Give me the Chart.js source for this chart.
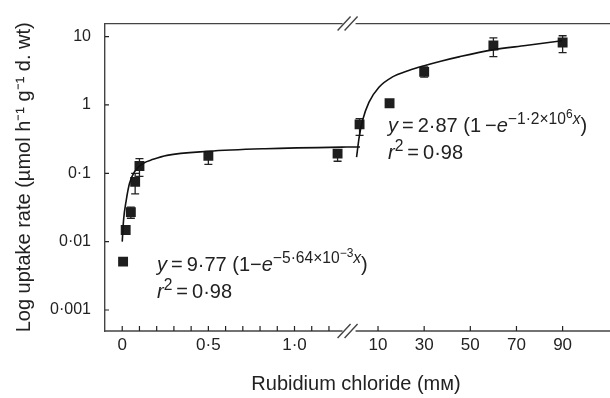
<!DOCTYPE html>
<html lang="en">
<head>
<meta charset="UTF-8">
<title>Rubidium uptake</title>
<script src="https://cdn.jsdelivr.net/npm/chart.js@4.4.1/dist/chart.umd.min.js"></script>
<style>
    html, body { margin: 0; padding: 0; background: #fff; }
</style>
</head>
<body>
<canvas id="myChart" width="610" height="398"></canvas>
<script>
// low range (left of the axis break), mM
const xLow = [0.005, 0.02, 0.05, 0.075, 0.1, 0.5, 1.25]
const yLow = [0.0051, 0.0148, 0.027, 0.075, 0.128, 0.18, 0.194]
const yLowMin = [0.0046, 0.0135, 0.022, 0.05, 0.09, 0.135, 0.15]
const yLowMax = [0.0056, 0.016, 0.032, 0.1, 0.164, 0.21, 0.22]
// fitted curve
const fitLowX = [0, 0.008, 0.023, 0.042, 0.07, 0.12, 0.18, 0.26, 0.5, 0.83, 1.3, 1.38]
const fitLowY = [0.01, 0.021, 0.04, 0.071, 0.104, 0.139, 0.16, 0.183, 0.21, 0.229, 0.242, 0.243]

// high range (right of the break), mM
const xHigh = [2, 15, 30, 60, 90]
const yHigh = [0.52, 1.06, 3.05, 7.4, 8.2]
const yHighMin = [0.36, 1.0, 2.55, 5.1, 5.84]
const yHighMax = [0.63, 1.12, 3.6, 9.57, 10.3]
const fitHighX = [0.7, 1.85, 3.3, 6.1, 10.4, 16.1, 23.3, 30.4, 37.6, 45.5, 59.8, 74, 89.8]
const fitHighY = [0.173, 0.34, 0.594, 1.1, 1.82, 2.55, 3.19, 3.78, 4.4, 5.1, 6.4, 7.4, 8.7]

// axes
const xLowTicks = [0, 0.1, 0.2, 0.3, 0.4, 0.5, 0.6, 0.7, 0.8, 0.9, 1.0, 1.1, 1.2]
const xLowLabels = ['0', '', '', '', '', '0·5', '', '', '', '', '1·0', '', '']
const xHighTicks = [10, 30, 50, 70, 90]
const xHighLabels = ['10', '30', '50', '70', '90']
const yTicks = [0.001, 0.01, 0.1, 1, 10]
const yLabels = ['0·001', '0·01', '0·1', '1', '10']

const FONT = 'Liberation Sans'
const INK = '#222'

function pts(xs, ys) {
    return xs.map((x, i) => ({ x: x, y: ys[i] }))
}

// draw text with superscripts, italics
function rich(ctx, x, y, parts, size) {
    parts.forEach(p => {
        let s = size, dy = 0
        if (p.sup == 1) { s = size * 0.78; dy = -size * 0.42 }
        if (p.sup == 2) { s = size * 0.6; dy = -size * 0.72 }
        ctx.font = (p.it ? 'italic ' : '') + s + 'px "' + FONT + '"'
        ctx.fillText(p.t, x, y + dy)
        x += ctx.measureText(p.t).width
    })
}

const decor = {
    id: 'decor',
    beforeDatasetsDraw(chart) {
        const ctx = chart.ctx
        const y = chart.scales.y
        ctx.save()
        ctx.strokeStyle = INK
        ctx.lineWidth = 1.3
        const bars = [
            [chart.scales.xL, xLow, yLowMin, yLowMax],
            [chart.scales.xR, xHigh, yHighMin, yHighMax]
        ]
        bars.forEach(([sx, xs, lo, hi]) => {
            xs.forEach((v, i) => {
                const px = sx.getPixelForValue(v)
                const p1 = y.getPixelForValue(lo[i]), p2 = y.getPixelForValue(hi[i])
                ctx.beginPath()
                ctx.moveTo(px, p1); ctx.lineTo(px, p2)
                ctx.moveTo(px - 4, p1); ctx.lineTo(px + 4, p1)
                ctx.moveTo(px - 4, p2); ctx.lineTo(px + 4, p2)
                ctx.stroke()
            })
        })
        ctx.restore()
    },
    afterDraw(chart) {
        const ctx = chart.ctx
        const a = chart.chartArea
        const xL = chart.scales.xL, xR = chart.scales.xR, y = chart.scales.y
        const cx = xL.right + 1
        ctx.save()
        ctx.strokeStyle = '#444'
        ctx.lineWidth = 1.4
        // top and bottom lines with the break
        ;[a.top, a.bottom].forEach(ly => {
            ctx.beginPath()
            ctx.moveTo(a.left, ly); ctx.lineTo(cx - 6, ly)
            ctx.moveTo(cx + 7, ly); ctx.lineTo(chart.width, ly)
            ctx.stroke()
            ctx.beginPath()
            ctx.moveTo(cx - 11, ly + 7); ctx.lineTo(cx + 2, ly - 7)
            ctx.moveTo(cx - 4, ly + 7); ctx.lineTo(cx + 9, ly - 7)
            ctx.stroke()
        })
        // inward ticks
        ctx.strokeStyle = INK
        ctx.lineWidth = 1.2
        ctx.beginPath()
        y.ticks.forEach(t => {
            const py = y.getPixelForValue(t.value)
            ctx.moveTo(a.left, py); ctx.lineTo(a.left + 4, py)
        })
        ;[xL, xR].forEach(sx => {
            sx.ticks.forEach(t => {
                const px = sx.getPixelForValue(t.value)
                ctx.moveTo(px, a.bottom); ctx.lineTo(px, a.bottom - 5)
            })
        })
        ctx.stroke()

        // equations
        ctx.fillStyle = INK
        ctx.textBaseline = 'alphabetic'
        ctx.textAlign = 'left'
        rich(ctx, a.left + 52, 271, [
            { t: 'y', it: 1 }, { t: '\u2009=\u20099·77 (1−' }, { t: 'e', it: 1 },
            { t: '−5·64×10', sup: 1 }, { t: '−3', sup: 2 }, { t: 'x', it: 1, sup: 1 }, { t: ')' }
        ], 20)
        rich(ctx, a.left + 52, 298, [
            { t: 'r', it: 1 }, { t: '2', sup: 1 }, { t: '\u2009=\u20090·98' }
        ], 20)
        rich(ctx, a.left + 283, 132, [
            { t: 'y', it: 1 }, { t: '\u2009=\u20092·87 (1\u2009−' }, { t: 'e', it: 1 },
            { t: '−1·2×10', sup: 1 }, { t: '6', sup: 2 }, { t: 'x', it: 1, sup: 1 }, { t: ')' }
        ], 20)
        rich(ctx, a.left + 283, 159, [
            { t: 'r', it: 1 }, { t: '2', sup: 1 }, { t: '\u2009=\u20090·98' }
        ], 20)

        // x title
        ctx.font = '20px "' + FONT + '"'
        ctx.textAlign = 'center'
        ctx.fillText('Rubidium chloride (mᴍ)', (a.left + a.right) / 2 + 2, 390)
        ctx.restore()
    }
}

const ctx = document.getElementById('myChart').getContext('2d')
const myChart = new Chart(ctx, {
    type: 'scatter',
    data: {
        datasets: [
            {
                data: pts(fitLowX, fitLowY), xAxisID: 'xL', showLine: true, pointRadius: 0, clip: false,
                borderColor: '#111', borderWidth: 1.6, cubicInterpolationMode: 'monotone'
            },
            {
                data: pts(fitHighX, fitHighY), xAxisID: 'xR', showLine: true, pointRadius: 0,
                borderColor: '#111', borderWidth: 1.6, cubicInterpolationMode: 'monotone'
            },
            {
                data: pts(xLow, yLow), xAxisID: 'xL', pointStyle: 'rect', pointRadius: 7,
                backgroundColor: '#1e1e1e', borderWidth: 0
            },
            {
                data: pts(xHigh, yHigh), xAxisID: 'xR', pointStyle: 'rect', pointRadius: 7,
                backgroundColor: '#1e1e1e', borderWidth: 0
            }
        ]
    },
    options: {
        responsive: false,
        animation: false,
        layout: { padding: { top: 23, right: 2, left: 0, bottom: 0 } },
        plugins: { legend: { display: false }, tooltip: { enabled: false } },
        scales: {
            xL: {
                type: 'linear', position: 'bottom', stack: 'x', stackWeight: 245,
                min: -0.1, max: 1.308,
                afterBuildTicks: s => { s.ticks = xLowTicks.map(v => ({ value: v })) },
                afterFit: s => { s.height = 67 },
                ticks: {
                    autoSkip: false, maxRotation: 0, padding: 4, color: INK,
                    font: { family: FONT, size: 17 },
                    callback: (v, i) => xLowLabels[i]
                },
                grid: { display: false, drawTicks: false },
                border: { display: false }
            },
            xR: {
                type: 'linear', position: 'bottom', stack: 'x', stackWeight: 258,
                min: -3.2, max: 107.5,
                afterBuildTicks: s => { s.ticks = xHighTicks.map(v => ({ value: v })) },
                afterFit: s => { s.height = 67 },
                ticks: {
                    autoSkip: false, maxRotation: 0, padding: 4, color: INK,
                    font: { family: FONT, size: 17 },
                    callback: (v, i) => xHighLabels[i]
                },
                grid: { display: false, drawTicks: false },
                border: { display: false }
            },
            y: {
                type: 'logarithmic', position: 'left',
                min: 0.000493, max: 15.5,
                afterBuildTicks: s => { s.ticks = yTicks.map(v => ({ value: v })) },
                afterFit: s => { s.width = 105 },
                ticks: {
                    autoSkip: false, padding: 14, color: INK,
                    font: { family: FONT, size: 16 },
                    callback: (v, i) => yLabels[i]
                },
                grid: { display: false, drawTicks: false },
                border: { display: true, color: '#444', width: 1.4 },
                title: {
                    display: true, color: INK, font: { family: FONT, size: 20 },
                    text: 'Log uptake rate (µmol h⁻¹ g⁻¹ d. wt)',
                    padding: { top: 12, bottom: 0 }
                }
            }
        }
    },
    plugins: [decor]
})
</script>
</body>
</html>
